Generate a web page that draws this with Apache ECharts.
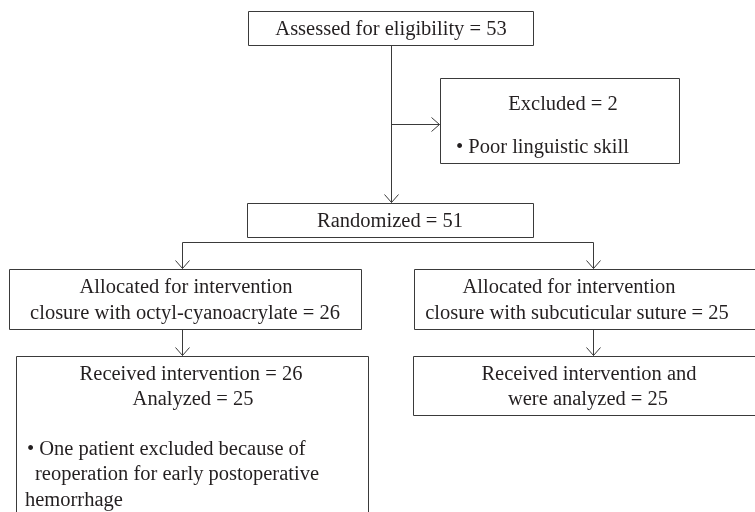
<!DOCTYPE html>
<html>
<head>
<meta charset="utf-8">
<script src="https://cdn.jsdelivr.net/npm/echarts@6/dist/echarts.min.js"></script>
<style>
  html, body { margin: 0; padding: 0; background: #fff; }
  #chart { width: 755px; height: 512px; }
</style>
</head>
<body>
<div id="chart"></div>
<script>
// flow counts
const stageNames = ["Assessed for eligibility", "Excluded", "Randomized"];
const stageCounts = [53, 2, 51];
const armNames = ["closure with octyl-cyanoacrylate", "closure with subcuticular suture"];
const armAllocated = [26, 25];
const armReceived = [26, 25];
const armAnalyzed = [25, 25];
const excludedReasons = ["Poor linguistic skill"];
const armNotes = ["One patient excluded because of", "reoperation for early postoperative", "hemorrhage"];

// layout, in diagram units (same as pixels here)
const boxes = [
    [248, 11, 533, 45],     // assessed
    [440, 78, 679, 163],    // excluded
    [247, 203, 533, 237],   // randomized
    [9, 269, 361, 329],     // allocated, arm 1
    [414, 269, 770, 329],   // allocated, arm 2
    [16, 356, 368, 530],    // received, arm 1
    [413, 356, 770, 415],   // received, arm 2
];

// [x1, y1, x2, y2, arrow at end]
const links = [
    [391, 45, 391, 202, 1],
    [391, 124, 439, 124, 1],
    [182, 242, 593, 242, 0],
    [182, 242, 182, 268, 1],
    [593, 242, 593, 268, 1],
    [182, 329, 182, 355, 1],
    [593, 329, 593, 355, 1],
];

// [text, x, y, align]
const labels = [
    [`${stageNames[0]} = ${stageCounts[0]}`, 391, 30, "center"],
    [`${stageNames[1]} = ${stageCounts[1]}`, 563, 105, "center"],
    [`\u2022 ${excludedReasons[0]}`, 456, 148, "left"],
    [`${stageNames[2]} = ${stageCounts[2]}`, 390, 222, "center"],
    ["Allocated for intervention", 186, 288, "center"],
    [`${armNames[0]} = ${armAllocated[0]}`, 185, 314, "center"],
    ["Allocated for intervention", 569, 288, "center"],
    [`${armNames[1]} = ${armAllocated[1]}`, 577, 314, "center"],
    [`Received intervention = ${armReceived[0]}`, 191, 375, "center"],
    [`Analyzed = ${armAnalyzed[0]}`, 193, 400, "center"],
    [`\u2022 ${armNotes[0]}`, 27, 450, "left"],
    [armNotes[1], 35, 475, "left"],
    [armNotes[2], 25, 501, "left"],
    ["Received intervention and", 589, 375, "center"],
    [`were analyzed = ${armAnalyzed[1]}`, 588, 400, "center"],
];

const lineColor = "#3a3a3a";
const textColor = "#231f20";
const fontFamily = "'Liberation Serif', 'DejaVu Serif', serif";

const crisp = (v) => Math.round(v) + 0.5;

const chart = echarts.init(document.getElementById("chart"), null, { renderer: "canvas" });

chart.setOption({
    animation: false,
    grid: { left: 0, right: 0, top: 0, bottom: 0 },
    xAxis: { type: "value", min: 0, max: 755, show: false },
    yAxis: { type: "value", min: 0, max: 512, inverse: true, show: false },
    series: [
        {
            type: "custom",
            clip: false,
            data: boxes,
            encode: { x: [0, 2], y: [1, 3] },
            renderItem: (params, api) => {
                const p0 = api.coord([api.value(0), api.value(1)]);
                const p1 = api.coord([api.value(2), api.value(3)]);
                return {
                    type: "rect",
                    shape: {
                        x: crisp(p0[0]),
                        y: crisp(p0[1]),
                        width: Math.round(p1[0] - p0[0]),
                        height: Math.round(p1[1] - p0[1]),
                    },
                    style: { fill: "#fff", stroke: lineColor, lineWidth: 1 },
                };
            },
        },
        {
            type: "custom",
            clip: false,
            data: links,
            encode: { x: [0, 2], y: [1, 3] },
            renderItem: (params, api) => {
                const a = api.coord([api.value(0), api.value(1)]);
                const b = api.coord([api.value(2), api.value(3)]);
                const children = [{
                    type: "line",
                    shape: { x1: crisp(a[0]), y1: crisp(a[1]), x2: crisp(b[0]), y2: crisp(b[1]) },
                    style: { stroke: lineColor, lineWidth: 1 },
                }];
                if (api.value(4)) {
                    const tx = crisp(b[0]), ty = crisp(b[1]);
                    const pts = a[0] === b[0]
                        ? [[tx - 7, ty - 8], [tx, ty], [tx + 7, ty - 8]]
                        : [[tx - 8, ty - 7], [tx, ty], [tx - 8, ty + 7]];
                    children.push({
                        type: "polyline",
                        shape: { points: pts },
                        style: { stroke: lineColor, lineWidth: 1, fill: null },
                    });
                }
                return { type: "group", children };
            },
        },
        {
            type: "custom",
            clip: false,
            data: labels.map((l) => [l[1], l[2]]),
            renderItem: (params, api) => {
                const p = api.coord([api.value(0), api.value(1)]);
                const item = labels[params.dataIndex];
                return {
                    type: "text",
                    x: p[0],
                    y: p[1],
                    style: {
                        text: item[0],
                        fill: textColor,
                        fontFamily: fontFamily,
                        fontSize: 20.5,
                        align: item[3],
                        verticalAlign: "middle",
                    },
                };
            },
        },
    ],
});
</script>
</body>
</html>
